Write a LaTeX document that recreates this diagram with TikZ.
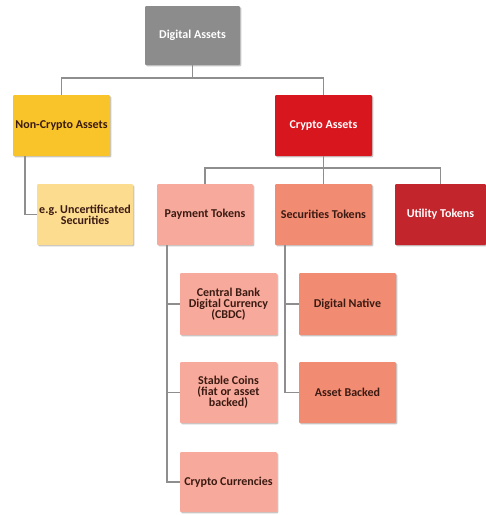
\documentclass[tikz,border=0pt]{standalone}
\usepackage{fontspec}
\setmainfont{Carlito}
\usetikzlibrary{shadows}

\definecolor{greybox}{HTML}{8C8C8C}
\definecolor{goldbox}{HTML}{F8C42A}
\definecolor{paleyellow}{HTML}{FCDC8E}
\definecolor{cryptored}{HTML}{D8161E}
\definecolor{pinkbox}{HTML}{F7AA9C}
\definecolor{salmonbox}{HTML}{F18C73}
\definecolor{darkred}{HTML}{C2252B}
\definecolor{darktext}{HTML}{3B1A12}
\definecolor{linkgrey}{HTML}{8E8E8E}

\tikzset{
  box/.style={draw=none, rounded corners=1pt, align=center, inner sep=1pt,
    font=\fontsize{12}{11}\selectfont\bfseries, text=darktext,
    drop shadow={shadow xshift=1.3pt, shadow yshift=-1.3pt, fill=black, opacity=0.22}},
  link/.style={draw=linkgrey, line width=1.2pt},
}

\begin{document}
\begin{tikzpicture}[x=1pt,y=-1pt]
\useasboundingbox[fill=white] (0,0) rectangle (486,515);

% top level
\node[box, fill=greybox, text=white, minimum width=95pt, minimum height=59pt] (da) at (192.5,35.5) {Digital Assets};

% second level
\node[box, fill=goldbox, minimum width=97pt, minimum height=61pt] (nc) at (61.5,125.5) {Non-Crypto Assets};
\node[box, fill=cryptored, text=white, minimum width=97pt, minimum height=61pt] (ca) at (323.5,125.5) {Crypto Assets};

% third level
\node[box, fill=paleyellow, minimum width=96pt, minimum height=61pt] (unc) at (85,214.5) {e.g.\ Uncertificated\\Securities};
\node[box, fill=pinkbox, minimum width=96pt, minimum height=61pt] (pt) at (205,214.5) {Payment Tokens};
\node[box, fill=salmonbox, minimum width=97pt, minimum height=61pt] (st) at (323.5,214.5) {Securities Tokens};
\node[box, fill=darkred, text=white, minimum width=91pt, minimum height=61pt] (ut) at (440.5,214.5) {Utility Tokens};

% fourth level
\node[box, fill=pinkbox, minimum width=97pt, minimum height=62pt] (cbdc) at (228.5,304) {Central Bank\\Digital Currency\\(CBDC)};
\node[box, fill=pinkbox, minimum width=97pt, minimum height=61pt] (sc) at (228.5,392.5) {Stable Coins\\(fiat or asset\\backed)};
\node[box, fill=pinkbox, minimum width=97pt, minimum height=60pt] (cc) at (228.5,482) {Crypto Currencies};
\node[box, fill=salmonbox, minimum width=97pt, minimum height=62pt] (dn) at (347.5,304) {Digital Native};
\node[box, fill=salmonbox, minimum width=97pt, minimum height=61pt] (ab) at (347.5,392.5) {Asset Backed};

% junctions
\coordinate (j1) at (192.5,78);
\coordinate (j2) at (323.5,168);

% connectors
\draw[link] (da.south) -- (j1);
\draw[link] (nc.north) -- (nc.north |- j1) -- (ca.north |- j1) -- (ca.north);
\draw[link] ([xshift=-36.5pt]nc.south) |- (unc.west);
\draw[link] (ca.south) -- (st.north);
\draw[link] (pt.north) |- (j2) -| (ut.north);
\draw[link] ([xshift=-38pt]pt.south) |- (cbdc.west);
\draw[link] ([xshift=-38pt]pt.south) |- (sc.west);
\draw[link] ([xshift=-38pt]pt.south) |- (cc.west);
\draw[link] ([xshift=-38.5pt]st.south) |- (dn.west);
\draw[link] ([xshift=-38.5pt]st.south) |- (ab.west);
\end{tikzpicture}
\end{document}
